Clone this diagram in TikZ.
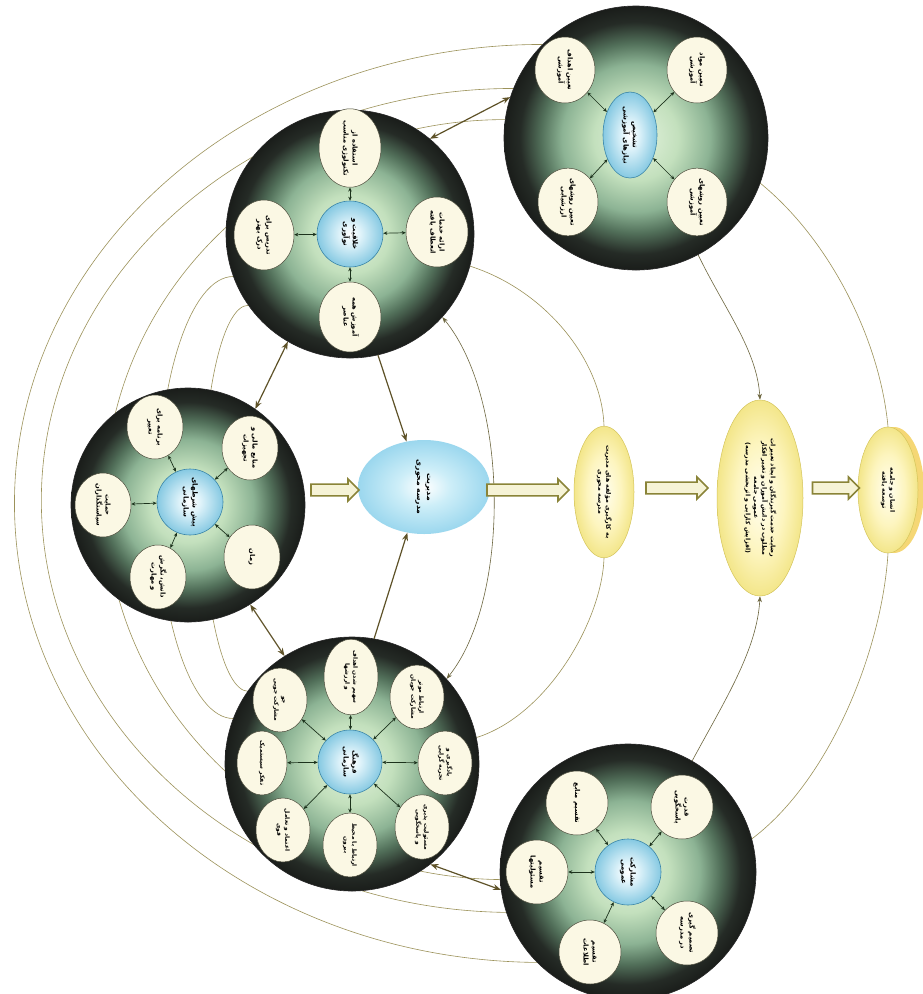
\documentclass[tikz,border=0pt]{standalone}
\usepackage{fontspec}
\usepackage{graphicx}
\usetikzlibrary{shapes.geometric,shapes.arrows,arrows.meta}
\TeXXeTstate=1
\newfontfamily\fafont[Script=Arabic]{DejaVu Sans}
\newcommand{\fatx}[1]{{\fafont\beginR #1\endR}}
\newcommand{\rtx}[1]{\rotatebox{-90}{\begin{tabular}{@{}c@{}}#1\end{tabular}}}
\definecolor{ballA}{HTML}{E4F3DE}
\definecolor{ballB}{HTML}{C3E0BD}
\definecolor{ballC}{HTML}{8CB394}
\definecolor{ballD}{HTML}{52705A}
\definecolor{ballE}{HTML}{252B26}
\definecolor{ballF}{HTML}{1A1D1A}
\definecolor{blueA}{HTML}{DFF3FA}
\definecolor{blueB}{HTML}{86C9E2}
\definecolor{blueD}{HTML}{3B86A8}
\definecolor{mB}{HTML}{CDEEF8}
\definecolor{mC}{HTML}{9BD7EE}
\definecolor{satF}{HTML}{FBF8E4}
\definecolor{satD}{HTML}{4A4A3A}
\definecolor{yelA}{HTML}{FFFEF0}
\definecolor{yelB}{HTML}{FDF5BF}
\definecolor{yelC}{HTML}{F3E68A}
\definecolor{yelD}{HTML}{D4C45A}
\definecolor{arcC}{HTML}{9C925A}
\definecolor{bigA}{HTML}{5E5228}
\definecolor{arrD}{HTML}{8A8438}
\definecolor{arrF}{HTML}{F6F3D6}
\definecolor{inC}{HTML}{1C321C}
\pgfdeclareradialshading{bigball}{\pgfpoint{0bp}{0bp}}{color(0bp)=(ballA); color(8bp)=(ballB); color(14bp)=(ballC); color(18bp)=(ballD); color(22bp)=(ballE); color(25bp)=(ballF); color(50bp)=(ballF)}
\pgfdeclareradialshading{blueball}{\pgfpoint{0bp}{0bp}}{color(0bp)=(white); color(8bp)=(blueA); color(25bp)=(blueB); color(50bp)=(blueB)}
\pgfdeclareradialshading{mball}{\pgfpoint{0bp}{0bp}}{color(0bp)=(white); color(10bp)=(mB); color(25bp)=(mC); color(50bp)=(mC)}
\pgfdeclareradialshading{yelball}{\pgfpoint{0bp}{0bp}}{color(0bp)=(yelA); color(14bp)=(yelB); color(25bp)=(yelC); color(50bp)=(yelC)}
\pgfdeclarelayer{bg}
\pgfdeclarelayer{back}
\pgfsetlayers{back,bg,main}
\begin{document}
\begin{tikzpicture}[x=1pt,y=1pt,
 bigc/.style={circle, draw=black!85, line width=0.6pt, shade, shading=bigball, inner sep=0pt},
 cen/.style={circle, draw=blueD, line width=0.6pt, shade, shading=blueball, inner sep=0pt, minimum size=66pt, font=\fontsize{7}{9}\selectfont\bfseries},
 sat/.style={ellipse, draw=satD, line width=0.5pt, fill=satF, inner sep=0pt, font=\fontsize{6.7}{9}\selectfont\bfseries},
 dsat/.style={sat, minimum width=54pt, minimum height=64pt, font=\fontsize{5.9}{8}\selectfont\bfseries},
 inarr/.style={<->, >={Stealth[length=4pt,width=3.5pt]}, line width=0.7pt, draw=inC},
 bigarr/.style={line width=1.2pt, draw=bigA, >={Stealth[length=8pt,width=6pt]}},
 arcline/.style={draw=arcC, line width=0.6pt},
 arcarr/.style={draw=arcC!70!black, line width=0.6pt, >={Stealth[length=6pt,width=4.5pt]}},
 yel/.style={ellipse, draw=yelD, line width=0.5pt, shade, shading=yelball, inner sep=0pt, font=\fontsize{6.2}{8.2}\selectfont\bfseries},
 harrow/.style={single arrow, draw=arrD, line width=1.6pt, fill=arrF, minimum width=22pt, single arrow head extend=5pt, inner xsep=0pt, inner ysep=5pt}
]
\begin{pgfonlayer}{back}
\fill[white] (0,0) rectangle (922,-994);
\end{pgfonlayer}
\useasboundingbox (0,0) rectangle (922,-994);

% ---------- big circles ----------
\node[bigc, minimum size=264pt] (A) at (636,-138) {};
\node[bigc, minimum size=248pt] (B) at (350,-234) {};
\node[bigc, minimum size=234pt] (C) at (188,-505) {};
\node[bigc, minimum size=254pt] (D) at (352,-764) {};
\node[bigc, minimum size=256pt] (E) at (628,-872) {};

% ---------- A ----------
\node[ellipse, draw=blueD, line width=0.6pt, shade, shading=blueball, inner sep=0pt, minimum width=54pt, minimum height=86pt, font=\fontsize{7}{9}\selectfont\bfseries] (Ac) at (630,-135) {\rtx{\fatx{تشخیص}\\\fatx{نیازهای آموزشی}}};
\node[sat, minimum width=60pt, minimum height=66pt] (A1) at (565,-70) {\rtx{\fatx{تعیین اهداف}\\\fatx{آموزشی}}};
\node[sat, minimum width=60pt, minimum height=66pt] (A2) at (697,-70) {\rtx{\fatx{تعیین مواد}\\\fatx{آموزشی}}};
\node[sat, minimum width=60pt, minimum height=66pt] (A3) at (568,-202) {\rtx{\fatx{تعیین روشهای}\\\fatx{ارزشیابی}}};
\node[sat, minimum width=60pt, minimum height=66pt] (A4) at (697,-202) {\rtx{\fatx{تعیین روشهای}\\\fatx{آموزشی}}};
\foreach \s in {A1,A2,A3,A4} \draw[inarr] (Ac) -- (\s);

% ---------- B ----------
\node[cen] (Bc) at (350,-234) {\rtx{\fatx{خلاقیت و}\\\fatx{نوآوری}}};
\node[sat, minimum width=62pt, minimum height=70pt] (B1) at (350,-148) {\rtx{\fatx{استفاده از}\\\fatx{تکنولوژی مناسب}}};
\node[sat, minimum width=62pt, minimum height=70pt] (B2) at (437,-232) {\rtx{\fatx{ارائه خدمات}\\\fatx{انعطاف یافته}}};
\node[sat, minimum width=60pt, minimum height=70pt] (B3) at (264,-235) {\rtx{\fatx{تدریس برای}\\\fatx{درک بهتر}}};
\node[sat, minimum width=62pt, minimum height=70pt] (B4) at (350,-317) {\rtx{\fatx{آموزش همه}\\\fatx{عناصر}}};
\foreach \s in {B1,B2,B3,B4} \draw[inarr] (Bc) -- (\s);

% ---------- C ----------
\node[cen] (Cc) at (190,-502) {\rtx{\fatx{پیش شرطهای}\\\fatx{سازمانی}}};
\node[sat, minimum width=56pt, minimum height=64pt] (C1) at (155,-427) {\rtx{\fatx{برنامه برای}\\\fatx{تغییر}}};
\node[sat, minimum width=56pt, minimum height=64pt] (C2) at (250,-448) {\rtx{\fatx{منابع مالی و}\\\fatx{تجهیزات}}};
\node[sat, minimum width=56pt, minimum height=64pt] (C3) at (103,-505) {\rtx{\fatx{حمایت}\\\fatx{سیاستگذاران}}};
\node[sat, minimum width=56pt, minimum height=64pt] (C4) at (158,-577) {\rtx{\fatx{دانش، نگرش}\\\fatx{و مهارت}}};
\node[sat, minimum width=56pt, minimum height=64pt] (C5) at (252,-557) {\rtx{\fatx{زمان}}};
\foreach \s in {C1,C2,C3,C4,C5} \draw[inarr] (Cc) -- (\s);

% ---------- D ----------
\node[cen, minimum size=64pt] (Dc) at (350,-762) {\rtx{\fatx{فرهنگ}\\\fatx{سازمانی}}};
\node[dsat] (D1) at (351,-677) {\rtx{\fatx{سهیم شدن اهداف}\\\fatx{و ارزشها}}};
\node[dsat] (D2) at (417,-697) {\rtx{\fatx{ارتباط موثر}\\\fatx{مشارکت جویان}}};
\node[dsat] (D3) at (445,-763) {\rtx{\fatx{یادگیری و}\\\fatx{تجربه گرایی}}};
\node[dsat] (D4) at (422,-827) {\rtx{\fatx{مسئولیت پذیری}\\\fatx{و پاسخگویی}}};
\node[dsat] (D5) at (350,-845) {\rtx{\fatx{ارتباط با محیط}\\\fatx{بیرون}}};
\node[dsat] (D6) at (283,-830) {\rtx{\fatx{اعتماد و تعامل}\\\fatx{قوی}}};
\node[dsat, minimum width=50pt] (D7) at (262,-763) {\rtx{\fatx{تفکر سیستمیک}}};
\node[dsat] (D8) at (280,-700) {\rtx{\fatx{جو}\\\fatx{مشارکت جویی}}};
\foreach \s in {D1,D2,D3,D4,D5,D6,D7,D8} \draw[inarr] (Dc) -- (\s);

% ---------- E ----------
\node[cen] (Ec) at (628,-872) {\rtx{\fatx{مشارکت}\\\fatx{عمومی}}};
\node[sat, minimum width=62pt, minimum height=64pt] (E1) at (577,-803) {\rtx{\fatx{تقسیم منابع}}};
\node[sat, minimum width=62pt, minimum height=64pt] (E2) at (682,-807) {\rtx{\fatx{قدرت}\\\fatx{پاسخگویی}}};
\node[sat, minimum width=62pt, minimum height=64pt] (E3) at (537,-872) {\rtx{\fatx{تقسیم}\\\fatx{مسئولیتها}}};
\node[sat, minimum width=62pt, minimum height=64pt] (E4) at (590,-952) {\rtx{\fatx{تقسیم}\\\fatx{اطلاعات}}};
\node[sat, minimum width=62pt, minimum height=64pt] (E5) at (687,-933) {\rtx{\fatx{تصمیم گیری}\\\fatx{در مدرسه}}};
\foreach \s in {E1,E2,E3,E4,E5} \draw[inarr] (Ec) -- (\s);

% ---------- middle column ----------
\node[ellipse, draw=none, shade, shading=mball, inner sep=0pt, minimum width=132pt, minimum height=94pt, font=\fontsize{7.6}{10}\selectfont\bfseries] (M) at (424,-487) {\rtx{\fatx{مدیریت}\\\fatx{مدرسه محوری}}};
\node[yel, minimum width=60pt, minimum height=128pt] (Y1) at (604,-492) {\rtx{\fatx{به کارگیری مؤلفه های مدیریت}\\\fatx{مدرسه محوری}}};
\node[yel, minimum width=86pt, minimum height=196pt] (Y2) at (760,-498) {\rtx{\fatx{رضایت خدمت گیرندگان و ایجاد تغییرات}\\\fatx{مطلوب در دانش آموزان و تغییر افکار}\\\fatx{عمومی جامعه}\\\fatx{(افزایش کارایی و اثربخشی مدرسه)}}};
\fill[yelC!85!orange] (894,-490) ellipse[x radius=30, y radius=63];
\node[yel, minimum width=60pt, minimum height=126pt] (Y3) at (888,-490) {\rtx{\fatx{انسان و جامعه}\\\fatx{توسعه یافته}}};

% hollow block arrows
\node[harrow, minimum height=48pt] (h1) at (332,-490) {};
\node[harrow, minimum height=82pt] (h2) at (525,-490) {};
\node[harrow, minimum height=62pt] (h3) at (674,-488) {};
\node[harrow, minimum height=47pt] (h4) at (833,-488) {};

% ---------- big connectors ----------
\draw[bigarr,<->] (A.162) -- (B.50);
\draw[bigarr,<->] (B.240) -- (C.55);
\draw[bigarr,<->] (C.302) -- (D.122);
\draw[bigarr,<->] (D.308) -- (E.188);
\draw[bigarr,->] (B.283) -- (M.111);
\draw[bigarr,->] (D.80) -- (M.250);

% ---------- thin arcs (behind) ----------
\begin{pgfonlayer}{bg}
\draw[arcline] (A.135) arc[start angle=90, end angle=270, x radius=528, y radius=459];
\draw[arcline] (A.158) arc[start angle=90, end angle=270, x radius=472, y radius=412];
\draw[arcline] (A.172) arc[start angle=90, end angle=270, x radius=400, y radius=380];
\draw[arcline] (B.200) arc[start angle=90, end angle=270, x radius=75, y radius=221];
\draw[arcline] (B.215) arc[start angle=90, end angle=270, x radius=45, y radius=193];
\draw[arcarr,<->] (B.318) .. controls (510,-400) and (510,-600) .. (D.42);
\draw[arcline] (B.345) .. controls (545,-290) and (602,-360) .. (Y1.north);
\draw[arcline] (D.12) .. controls (548,-715) and (602,-620) .. (Y1.south);
\draw[arcarr,->] (A.298) .. controls (725,-310) and (757,-350) .. (Y2.north);
\draw[arcarr,->] (E.60) .. controls (725,-700) and (757,-650) .. (Y2.south);
\draw[arcline] (A.340) .. controls (830,-240) and (880,-340) .. (Y3.north);
\draw[arcline] (E.15) .. controls (830,-780) and (882,-650) .. (Y3.south);
\end{pgfonlayer}
\end{tikzpicture}
\end{document}
